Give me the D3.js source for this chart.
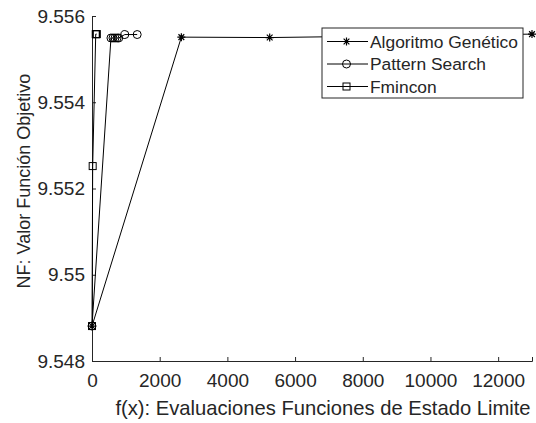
<!DOCTYPE html>
<html>
<head>
<meta charset="utf-8">
<script src="https://cdn.jsdelivr.net/npm/d3@7"></script>
<style>
  body { margin: 0; background: #fff; }
  svg { display: block; }
  text { font-family: "Liberation Sans", Arial, Helvetica, sans-serif; fill: #262626; }
</style>
</head>
<body>
<svg id="chart" width="536" height="423"></svg>
<script>
// Function evaluations (x) and objective value NF (y) for each optimiser
const gaX = [0, 2640, 5250, 13000];
const gaY = [9.54881, 9.55551, 9.55550, 9.55558];

const psX = [0, 560, 620, 680, 740, 790, 970, 1335];
const psY = [9.54881, 9.55549, 9.55549, 9.55549, 9.55549, 9.55549, 9.55557, 9.55557];

const fmX = [0, 20, 110, 120, 130, 140];
const fmY = [9.54881, 9.55252, 9.55558, 9.55558, 9.55558, 9.55558];

const xTicks = [0, 2000, 4000, 6000, 8000, 10000, 12000];
const yTicks = [9.548, 9.55, 9.552, 9.554, 9.556];
const yTickLabels = ["9.548", "9.55", "9.552", "9.554", "9.556"];

const seriesNames = ["Algoritmo Genético", "Pattern Search", "Fmincon"];
const xTitle = "f(x): Evaluaciones Funciones de Estado Limite";
const yTitle = "NF: Valor Función Objetivo";

const svg = d3.select("#chart");
const m = { left: 92, right: 532, top: 16, bottom: 361 };
const axisColor = "#262626";

const x = d3.scaleLinear().domain([0, 13000]).range([m.left, m.right]);
const y = d3.scaleLinear().domain([9.548, 9.556]).range([m.bottom, m.top]);

// axes (left and bottom only)
const xAxis = svg.append("g")
  .attr("transform", `translate(0,${m.bottom})`)
  .call(d3.axisBottom(x).tickValues(xTicks).tickSize(-4).tickPadding(13).tickFormat(d3.format("d")));
const yAxis = svg.append("g")
  .attr("transform", `translate(${m.left},0)`)
  .call(d3.axisLeft(y).tickValues(yTicks).tickSize(-4).tickPadding(7)
    .tickFormat((d, i) => yTickLabels[i]));

[xAxis, yAxis].forEach(g => {
  g.select(".domain").attr("stroke", axisColor).attr("stroke-width", 1);
  g.selectAll(".tick line").attr("stroke", axisColor);
  g.selectAll(".tick text").attr("font-size", 19).attr("fill", axisColor)
    .style("font-family", "'Liberation Sans', Arial, sans-serif");
});

// axis titles
svg.append("text")
  .attr("x", 323)
  .attr("y", 415)
  .attr("text-anchor", "middle")
  .attr("font-size", 20.2)
  .text(xTitle);
svg.append("text")
  .attr("transform", `translate(30,181) rotate(-90)`)
  .attr("text-anchor", "middle")
  .attr("font-size", 18)
  .text(yTitle);

// markers
function star(g, cx, cy, r) {
  const p = d3.path();
  p.moveTo(cx - r, cy); p.lineTo(cx + r, cy);
  p.moveTo(cx, cy - r); p.lineTo(cx, cy + r);
  const d = r * 0.72;
  p.moveTo(cx - d, cy - d); p.lineTo(cx + d, cy + d);
  p.moveTo(cx - d, cy + d); p.lineTo(cx + d, cy - d);
  g.append("path").attr("d", p.toString()).attr("stroke", "#000").attr("stroke-width", 1.2).attr("fill", "none");
}
function circle(g, cx, cy) {
  g.append("circle").attr("cx", cx).attr("cy", cy).attr("r", 4)
    .attr("fill", "none").attr("stroke", "#000").attr("stroke-width", 1);
}
function square(g, cx, cy) {
  g.append("rect").attr("x", cx - 3.5).attr("y", cy - 3.5).attr("width", 7).attr("height", 7)
    .attr("fill", "none").attr("stroke", "#000").attr("stroke-width", 1);
}

const line = d3.line().x(d => x(d[0])).y(d => y(d[1]));
const series = [
  { xs: gaX, ys: gaY, marker: (g, a, b) => star(g, a, b, 4) },
  { xs: psX, ys: psY, marker: circle },
  { xs: fmX, ys: fmY, marker: square }
];

const plot = svg.append("g");
series.forEach(s => {
  const pts = s.xs.map((v, i) => [v, s.ys[i]]);
  plot.append("path").attr("d", line(pts)).attr("fill", "none")
    .attr("stroke", "#000").attr("stroke-width", 1);
});
series.forEach(s => {
  s.xs.forEach((v, i) => s.marker(plot, x(v), y(s.ys[i])));
});

// legend
const lg = svg.append("g");
const lx = 322, ly = 28, lw = 201, lh = 70;
lg.append("rect").attr("x", lx).attr("y", ly).attr("width", lw).attr("height", lh)
  .attr("fill", "#fff").attr("stroke", "#262626").attr("stroke-width", 1);
seriesNames.forEach((name, i) => {
  const cy = 41.5 + i * 22.5;
  lg.append("line").attr("x1", lx + 5).attr("x2", lx + 46).attr("y1", cy).attr("y2", cy)
    .attr("stroke", "#000").attr("stroke-width", 1);
  series[i].marker(lg, lx + 24.5, cy, 3.5);
  lg.append("text").attr("x", lx + 48).attr("y", cy + 6)
    .attr("font-size", 17.4).attr("fill", "#000").text(name);
});
</script>
</body>
</html>
